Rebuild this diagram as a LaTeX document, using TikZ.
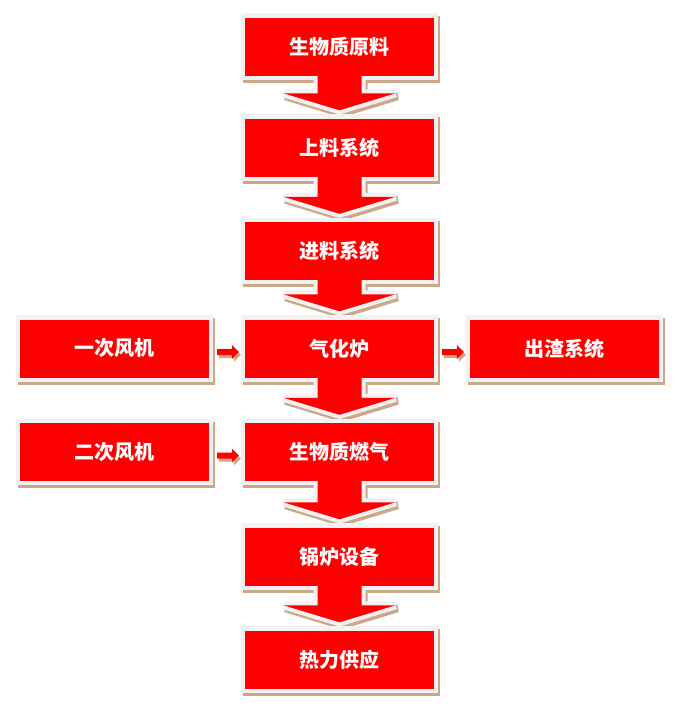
\documentclass[tikz,border=0pt]{standalone}
\usepackage{fontspec}
\newfontfamily\cjk{Noto Sans CJK SC}
\usetikzlibrary{calc}
\definecolor{boxred}{RGB}{255,0,0}
\definecolor{rimgray}{RGB}{242,242,242}
\definecolor{shadowtan}{RGB}{204,168,136}
\pgfdeclarelayer{shadowlayer}
\pgfdeclarelayer{rimlayer}
\pgfsetlayers{shadowlayer,rimlayer,main}
% down arrow (callout tail) from node #1 to node #2, with path options #3
\newcommand\downshape[3]{%
  \path[#3] ($(#1.south)+(-22,6)$) |- ($(#2.north)+(-56,25)$)
    -- ($(#2.north)+(0,8)$) -- ($(#2.north)+(56,25)$)
    -| ($(#1.south)+(22,6)$) -- cycle;}
% small right arrow from node #1 to node #2, with path options #3
\newcommand\sideshape[3]{%
  \path[#3] ($(#1.east)+(8,-0.5)$) -- ($(#2.west)+(-13,-0.5)$)
    -- ($(#2.west)+(-13,3.5)$) -- ($(#2.west)+(-6,-3.5)$)
    -- ($(#2.west)+(-13,-10.5)$) -- ($(#2.west)+(-13,-6.5)$)
    -- ($(#1.east)+(8,-6.5)$) -- cycle;}
\begin{document}
\begin{tikzpicture}[x=1pt,y=1pt,
  box/.style={fill=boxred, minimum width=189pt, minimum height=58pt, inner sep=0pt,
    text=white, font=\cjk\bfseries\fontsize{20}{24}\selectfont},
  rimline/.style={draw=rimgray, fill=rimgray, line width=8pt, line join=miter, miter limit=3},
  shadowline/.style={draw=shadowtan, fill=shadowtan, line width=8pt, line join=miter,
    miter limit=3, transform canvas={xshift=2pt, yshift=-3pt}},
  redfill/.style={fill=boxred},
  smallshadow/.style={fill=shadowtan, transform canvas={xshift=2pt, yshift=-3pt}}
]
\useasboundingbox (0,0) rectangle (679,-712);
\begin{pgfonlayer}{shadowlayer}
  \fill[white] (0,0) rectangle (679,-712);
\end{pgfonlayer}

\node[box] (raw)    at (339.5,-46.5)  {生物质原料};
\node[box] (load)   at (339.5,-147.5) {上料系统};
\node[box] (feed)   at (339.5,-251)   {进料系统};
\node[box] (gasif)  at (339.5,-348.5) {气化炉};
\node[box] (fuel)   at (339.5,-452)   {生物质燃气};
\node[box] (boiler) at (339.5,-556.5) {锅炉设备};
\node[box] (heat)   at (339.5,-659.5) {热力供应};
\node[box] (air1)   at (114.5,-348.5) {一次风机};
\node[box] (air2)   at (114.5,-452)   {二次风机};
\node[box] (slag)   at (564.5,-348.5) {出渣系统};

\foreach \n in {raw,load,feed,gasif,fuel,boiler,heat,air1,air2,slag}{
  \begin{pgfonlayer}{rimlayer}
    \path[rimline] (\n.south west) rectangle (\n.north east);
  \end{pgfonlayer}
  \begin{pgfonlayer}{shadowlayer}
    \path[shadowline] (\n.south west) rectangle (\n.north east);
  \end{pgfonlayer}
}

\foreach \a/\b in {raw/load,load/feed,feed/gasif,gasif/fuel,fuel/boiler,boiler/heat}{
  \begin{pgfonlayer}{rimlayer}
    \downshape{\a}{\b}{rimline}
  \end{pgfonlayer}
  \begin{pgfonlayer}{shadowlayer}
    \downshape{\a}{\b}{shadowline}
  \end{pgfonlayer}
  \downshape{\a}{\b}{redfill}
}

\foreach \a/\b in {air1/gasif,air2/fuel,gasif/slag}{
  \begin{pgfonlayer}{shadowlayer}
    \sideshape{\a}{\b}{smallshadow}
  \end{pgfonlayer}
  \sideshape{\a}{\b}{redfill}
}
\end{tikzpicture}
\end{document}
